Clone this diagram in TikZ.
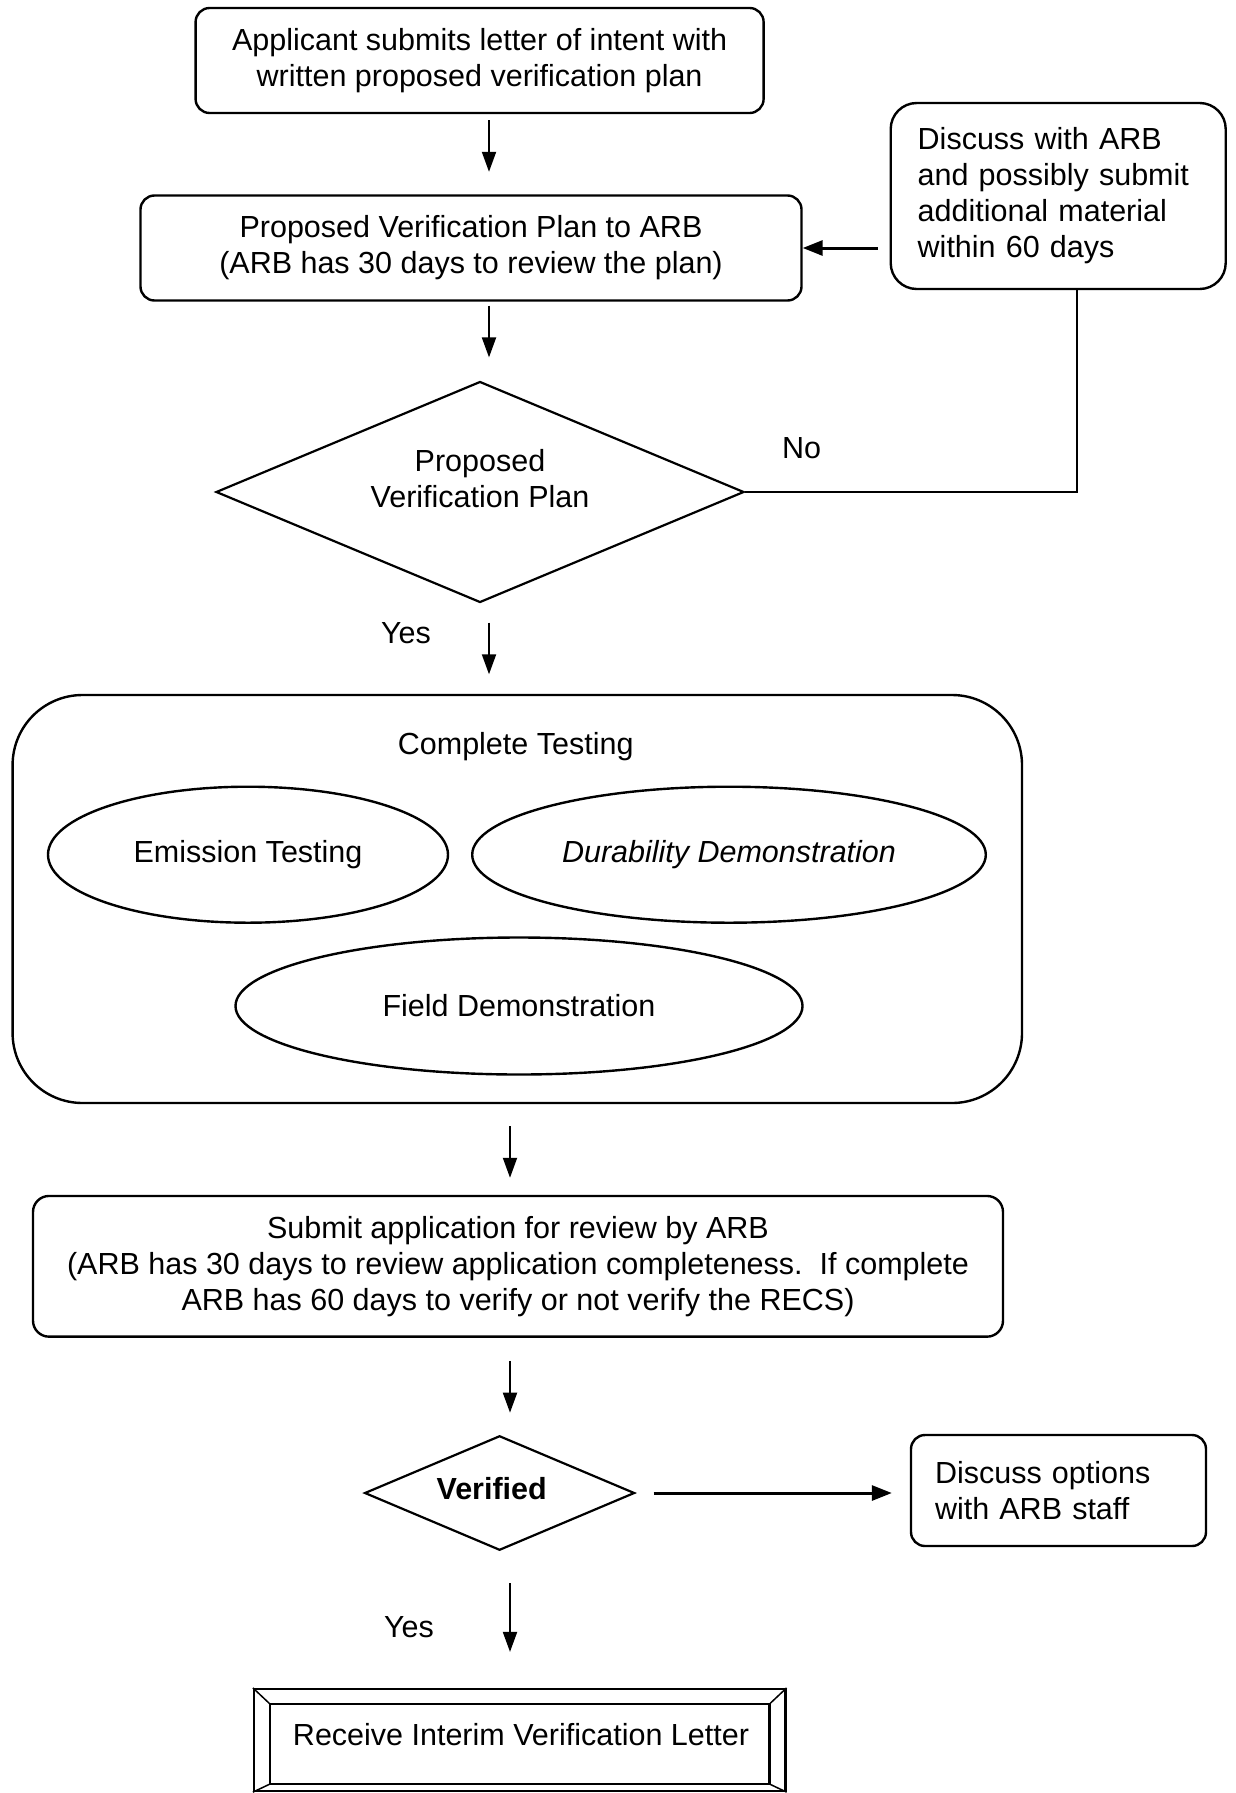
\documentclass[tikz,border=0pt]{standalone}
\usepackage{fontspec}
\setmainfont{Liberation Sans}
\usetikzlibrary{shapes.geometric,arrows.meta}
\newcommand{\txtsize}{\fontsize{30.5}{36}\selectfont}
\begin{document}
\begin{tikzpicture}[x=1pt,y=-1pt,
  every node/.style={font=\txtsize},
  box/.style={draw, line width=2.4pt, rounded corners=14pt, align=center, inner sep=0pt},
  ell/.style={draw, ellipse, line width=2.4pt, inner sep=0pt},
  dia/.style={draw, diamond, line width=2.2pt, inner sep=0pt},
  arr/.style={line width=2pt, -{Triangle[length=20pt,width=14pt]}},
  thickarr/.style={line width=3pt, -{Triangle[length=20pt,width=15pt]}},
  ln/.style={line width=2.2pt},
  lbl/.style={inner sep=0pt, align=center}]
\useasboundingbox (0,0) rectangle (1236,1793);

% top part
\node[box, minimum width=568pt, minimum height=105pt] (a) at (479.6,60.5)
  {Applicant submits letter of intent with\\written proposed verification plan};
\node[box, minimum width=661pt, minimum height=105pt] (b) at (471,248)
  {Proposed Verification Plan to ARB\\(ARB has 30 days to review the plan)};
\node[box, rounded corners=26pt, minimum width=335pt, minimum height=186pt,
      text width=281pt, align=left] (r) at (1058.2,196)
  {Discuss with ARB\\and possibly submit\\additional material\\within 60 days};

\node[dia, minimum width=528pt, minimum height=221pt, aspect=2.39] (d1) at (480,492) {};
\node[lbl] (d1t) at (480,479) {Proposed\\Verification Plan};

\node[lbl] (no) at (801.5,448) {No};
\node[lbl] (yes1) at (406,633.5) {Yes};

% complete testing
\node[box, rounded corners=70pt, minimum width=1009.4pt, minimum height=408pt] (ct) at (517.3,899) {};
\node[lbl] (ctt) at (515.7,746.6) {Complete Testing};
\node[ell, minimum width=400pt, minimum height=136pt] (e1) at (248,854.7) {Emission Testing};
\node[ell, minimum width=513.6pt, minimum height=136pt, font=\txtsize\itshape] (e2) at (729,854.7) {Durability Demonstration};
\node[ell, minimum width=567pt, minimum height=137pt] (e3) at (519,1006) {Field Demonstration};

% submit
\node[box, rounded corners=16pt, minimum width=970pt, minimum height=140.7pt] (s) at (518,1266.3)
  {Submit application for review by ARB\\(ARB has 30 days to review application completeness.\ \ If complete\\ARB has 60 days to verify or not verify the RECS)};

\node[dia, minimum width=270pt, minimum height=114.5pt, aspect=2.36] (d2) at (499.6,1493) {};
\node[lbl, font=\txtsize\bfseries] (d2t) at (491.7,1488.7) {Verified};

\node[box, rounded corners=14pt, minimum width=295pt, minimum height=111pt,
      text width=247pt, align=left] (o) at (1058.5,1490.5)
  {Discuss options\\with ARB staff};

\node[lbl] (yes2) at (409,1627) {Yes};

% final framed box
\node[draw, line width=2.2pt, minimum width=531.5pt, minimum height=102pt, inner sep=0pt] (f) at (519.75,1740) {};
\coordinate (fi1) at (270,1704);
\coordinate (fi2) at (769.5,1704);
\coordinate (fi3) at (769.5,1784);
\coordinate (fi4) at (270,1784);
\draw[ln] (fi1) -- (fi2) -- (fi3) -- (fi4) -- cycle;
\draw[line width=1.5pt] (f.north west) -- (fi1) (f.north east) -- (fi2)
  (f.south east) -- (fi3) (f.south west) -- (fi4);
\node[lbl] (ft) at (521,1734.6) {Receive Interim Verification Letter};

% connectors
\coordinate (ax1) at (489,0);
\coordinate (ax2) at (510,0);
\coordinate (nx) at (1077,0);
\draw[arr, shorten <=6pt, shorten >=22.5pt] (a.south -| ax1) -- (b.north -| ax1);
\draw[arr, shorten <=4pt, shorten >=23pt] (b.south -| ax1) -- (d1.north -| ax1);
\draw[arr, shorten <=19pt, shorten >=19.5pt] (d1.south -| ax1) -- (ct.north -| ax1);
\draw[arr, shorten <=22pt, shorten >=17pt] (ct.south -| ax2) -- (s.north -| ax2);
\draw[arr, shorten <=23pt, shorten >=22pt] (s.south -| ax2) -- (d2.north -| ax2);
\draw[arr, shorten <=32pt, shorten >=36pt] (d2.south -| ax2) -- (f.north -| ax2);
\draw[thickarr, shorten <=18pt, shorten >=18pt] (d2.east) -- (o.west |- d2.east);
\draw[thickarr, shorten <=12pt] (r.west |- b.east) -- (b.east);
\draw[ln] (d1.east) -| (nx |- r.south);
\end{tikzpicture}
\end{document}
